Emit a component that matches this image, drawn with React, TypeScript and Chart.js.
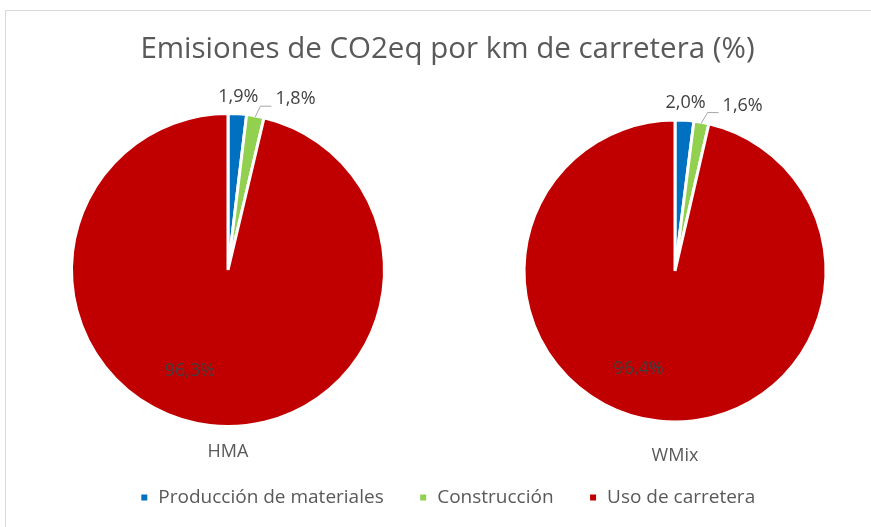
import { useEffect, useRef } from 'react';
import { Chart, registerables } from 'chart.js';

Chart.register(...registerables);

const categories = ['Producción de materiales', 'Construcción', 'Uso de carretera'];
const pieNames = ['HMA', 'WMix'];
const hmaValues = [1.9, 1.8, 96.3];
const wmixValues = [2.0, 1.6, 96.4];
const colors = ['#0070C0', '#92D050', '#C00000'];
const titleText = 'Emisiones de CO2eq por km de carretera (%)';

const FONT = '"Open Sans", "DejaVu Sans", sans-serif';

// layout of the two pies (positions/sizes only)
const pieLayout = [
  { cx: 228, cy: 270, r: 156.5, nameY: 452 },
  { cx: 675, cy: 271, r: 151, nameY: 456 },
];

const fmt = (v: number) => v.toFixed(1).replace('.', ',') + '%';

const sideBySidePlugin = {
  id: 'sideBySide',
  afterDatasetsUpdate(chart: any) {
    chart.data.datasets.forEach((_ds: any, i: number) => {
      const L = pieLayout[i];
      const meta = chart.getDatasetMeta(i);
      meta.data.forEach((arc: any) => {
        arc.x = L.cx;
        arc.y = L.cy;
        arc.outerRadius = L.r;
        arc.innerRadius = 0;
      });
    });
  },
};

const labelsPlugin = {
  id: 'pieLabels',
  afterDatasetsDraw(chart: any) {
    const ctx = chart.ctx;
    ctx.save();
    chart.data.datasets.forEach((ds: any, i: number) => {
      const L = pieLayout[i];
      const meta = chart.getDatasetMeta(i);
      let prevRight = -Infinity;
      ctx.font = `18px ${FONT}`;
      ctx.textBaseline = 'middle';
      meta.data.forEach((arc: any, j: number) => {
        const v = ds.data[j];
        const text = fmt(v);
        const mid = (arc.startAngle + arc.endAngle) / 2;
        const w = ctx.measureText(text).width;
        if (v < 10) {
          const d = L.r + 17;
          const x = L.cx + Math.cos(mid) * d;
          const y = L.cy + Math.sin(mid) * d;
          let left = x - w / 2;
          if (left < prevRight + 17) {
            left = prevRight + 17;
            const sx = L.cx + Math.cos(mid) * (L.r - 1);
            const sy = L.cy + Math.sin(mid) * (L.r - 1);
            ctx.strokeStyle = '#a6a6a6';
            ctx.lineWidth = 1;
            ctx.beginPath();
            ctx.moveTo(sx, sy);
            ctx.lineTo(left - 15, y + 7);
            ctx.lineTo(left - 4, y + 7);
            ctx.stroke();
          }
          ctx.fillStyle = '#404040';
          ctx.textAlign = 'left';
          ctx.fillText(text, left, y);
          prevRight = left + w;
        } else {
          const a = mid + (14 * Math.PI) / 180;
          const d = L.r * 0.69;
          ctx.fillStyle = '#404040';
          ctx.textAlign = 'center';
          ctx.fillText(text, L.cx + Math.cos(a) * d, L.cy + Math.sin(a) * d);
        }
      });
      ctx.fillStyle = '#595959';
      ctx.textAlign = 'center';
      ctx.font = `18px ${FONT}`;
      ctx.fillText(ds.label, L.cx, L.nameY);
    });
    ctx.restore();
  },
};

export default function App() {
  const ref = useRef<HTMLCanvasElement>(null);
  useEffect(() => {
    if (!ref.current) return;
    const chart = new Chart(ref.current, {
      type: 'pie',
      data: {
        labels: categories,
        datasets: [
          { label: pieNames[0], data: hmaValues, backgroundColor: colors, borderColor: '#ffffff', borderWidth: 3 },
          { label: pieNames[1], data: wmixValues, backgroundColor: colors, borderColor: '#ffffff', borderWidth: 3 },
        ],
      },
      options: {
        animation: false,
        responsive: false,
        events: [],
        layout: { padding: { left: 24, right: 0, top: 0, bottom: 10 } },
        plugins: {
          title: {
            display: true,
            text: titleText,
            color: '#595959',
            font: { family: FONT, size: 29.5, weight: 'normal' },
            padding: { top: 32, bottom: 10 },
          },
          legend: {
            display: true,
            position: 'bottom',
            labels: {
              boxWidth: 9,
              boxHeight: 9,
              padding: 35,
              color: '#595959',
              font: { family: FONT, size: 19 },
            },
          },
          tooltip: { enabled: false },
        },
      } as any,
      plugins: [sideBySidePlugin, labelsPlugin],
    });
    return () => chart.destroy();
  }, []);

  return (
    <div style={{ position: 'absolute', left: 0, top: 0, width: 871, height: 527, background: '#ffffff', overflow: 'hidden' }}>
      <div
        style={{
          position: 'absolute',
          left: 5,
          top: 10,
          width: 870,
          height: 520,
          borderTop: '1px solid #d9d9d9',
          borderLeft: '1px solid #d9d9d9',
        }}
      />
      <canvas ref={ref} width={871} height={527} style={{ position: 'absolute', left: 0, top: 0, width: 871, height: 527, display: 'block' }} />
    </div>
  );
}
